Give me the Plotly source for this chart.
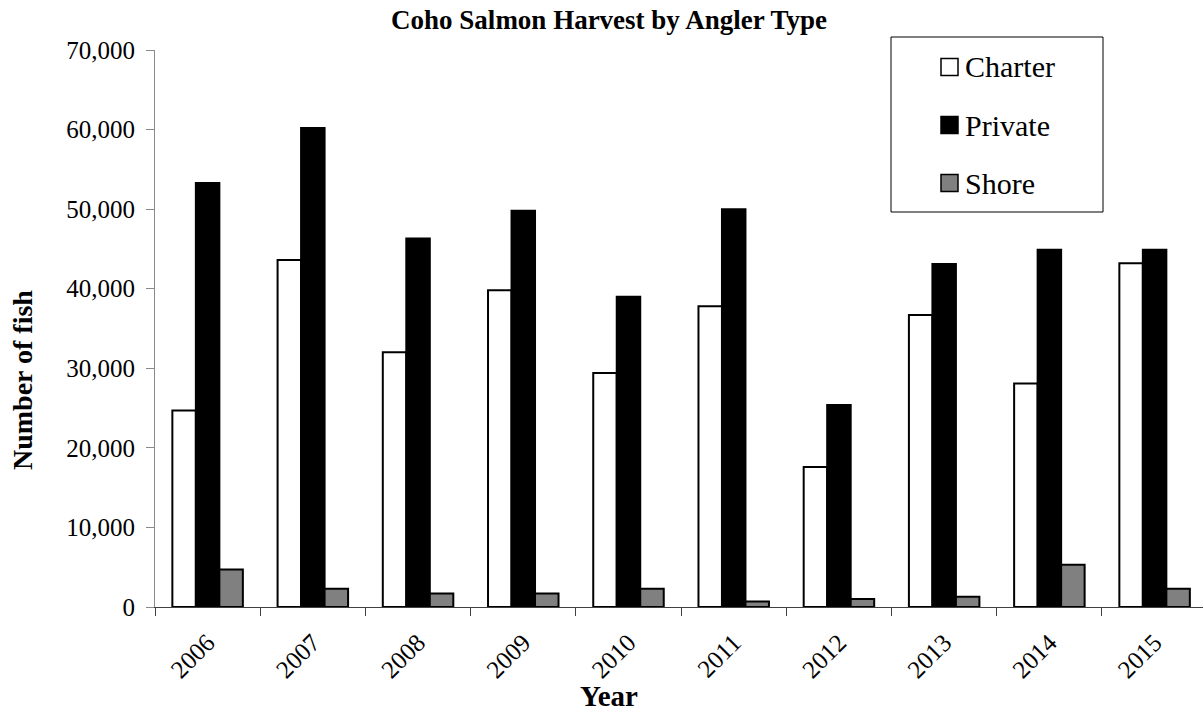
import plotly.graph_objects as go

# Coho salmon harvest by angler type, 2006-2015
years = ["2006", "2007", "2008", "2009", "2010", "2011", "2012", "2013", "2014", "2015"]
charter = [24700, 43600, 32000, 39800, 29400, 37800, 17600, 36700, 28100, 43200]
private = [53300, 60200, 46300, 49800, 39000, 50000, 25400, 43100, 44900, 44900]
shore = [4700, 2300, 1700, 1700, 2300, 700, 1000, 1300, 5300, 2300]

series_names = ["Charter", "Private", "Shore"]
series_fill = ["white", "black", "#808080"]
series_values = [charter, private, shore]

FONT = "Liberation Serif, Times New Roman, serif"

W, H = 1203, 715
ML, MR, MT, MB = 155, 0, 50, 108
pw = W - ML - MR
ph = H - MT - MB


def px_x(p):
    return (p - ML) / pw


def px_y(p):
    return (H - MB - p) / ph


fig = go.Figure()
for name, fill, vals in zip(series_names, series_fill, series_values):
    fig.add_trace(go.Bar(name=name, x=years, y=vals, showlegend=False,
                         marker=dict(color=fill, line=dict(color="black", width=2))))

fig.update_layout(
    width=W, height=H,
    margin=dict(l=ML, r=MR, t=MT, b=MB),
    paper_bgcolor="white", plot_bgcolor="white",
    font=dict(family=FONT, color="black"),
    barmode="group", bargap=0.33, bargroupgap=0,
    title=dict(text="<b>Coho Salmon Harvest by Angler Type</b>",
               x=609 / W, xref="container", xanchor="center",
               y=1 - 20 / H, yref="container", yanchor="middle",
               font=dict(size=27, family=FONT, color="black")),
    xaxis=dict(type="category", range=[-0.5, 9.46], tickangle=-45,
               showline=True, linecolor="#404040", linewidth=1,
               ticks="outside", tickson="boundaries", ticklen=8, tickcolor="#404040",
               tickfont=dict(size=25, family=FONT, color="black"),
               ticklabelstandoff=10,
               showgrid=False, zeroline=False),
    yaxis=dict(range=[0, 70000], dtick=10000, tickformat=",",
               showline=True, linecolor="#8a8a8a", linewidth=1,
               ticks="outside", ticklen=8, tickcolor="#8a8a8a",
               tickfont=dict(size=25, family=FONT, color="black"),
               ticklabelstandoff=6,
               showgrid=False, zeroline=False),
)

# Axis titles
fig.add_annotation(text="<b>Year</b>", xref="paper", yref="paper",
                   x=px_x(609), y=px_y(696), xanchor="center", yanchor="middle",
                   borderpad=0, showarrow=False,
                   font=dict(size=29, family=FONT, color="black"))
fig.add_annotation(text="<b>Number of fish</b>", xref="paper", yref="paper",
                   x=px_x(22), y=px_y(380), xanchor="center", yanchor="middle",
                   textangle=-90, showarrow=False, font=dict(size=28, family=FONT, color="black"))

# Legend box with swatches and labels
fig.add_shape(type="rect", xref="paper", yref="paper",
              x0=px_x(891), x1=px_x(1103), y0=px_y(212), y1=px_y(37),
              line=dict(color="black", width=1), fillcolor="white", layer="above")
for i, (name, fill) in enumerate(zip(series_names, series_fill)):
    cy = 67 + 58 * i
    fig.add_shape(type="rect", xref="paper", yref="paper",
                  x0=px_x(941), x1=px_x(958), y0=px_y(cy + 8.5), y1=px_y(cy - 8.5),
                  line=dict(color="black", width=1.5), fillcolor=fill, layer="above")
    fig.add_annotation(text=name, xref="paper", yref="paper",
                       x=px_x(963), y=px_y(cy), xanchor="left", yanchor="middle",
                       showarrow=False, font=dict(size=30, family=FONT, color="black"))

fig.write_html("out.html")
